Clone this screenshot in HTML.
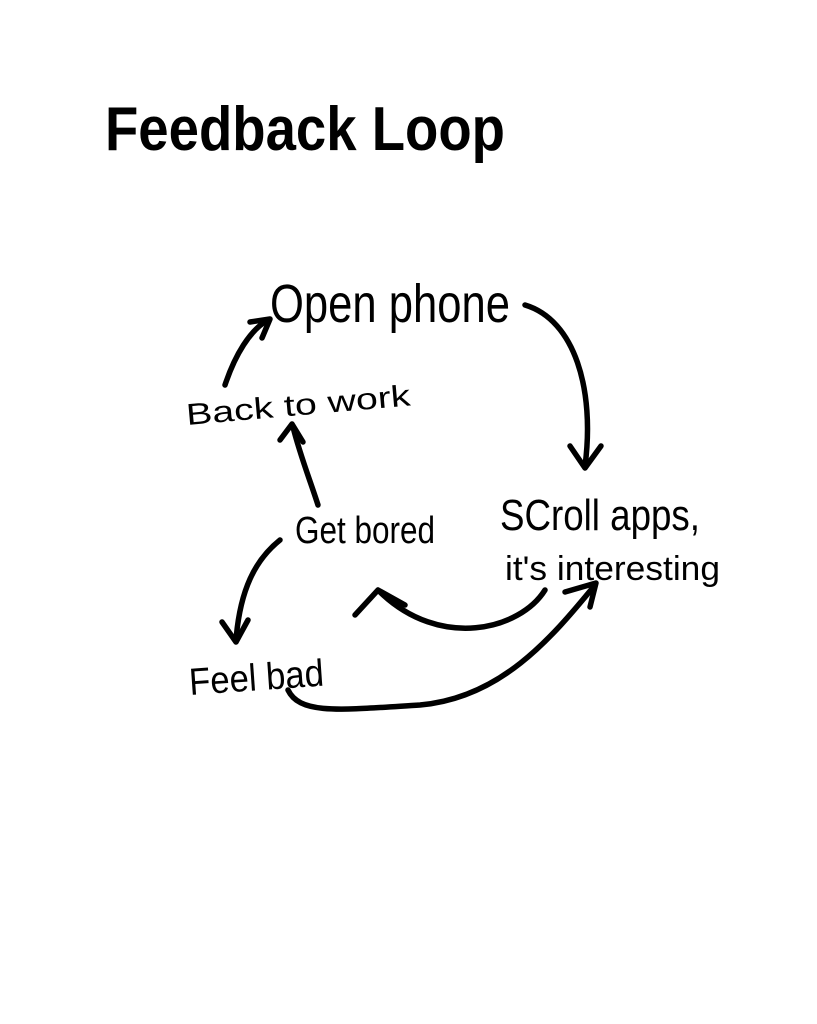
<!DOCTYPE html>
<html><head><meta charset="utf-8"><style>
html,body{margin:0;padding:0;background:#fff;}
svg{display:block;}
text{font-family:"Liberation Sans",sans-serif;fill:#000;}
</style></head><body>
<svg width="817" height="1024" viewBox="0 0 817 1024" xmlns="http://www.w3.org/2000/svg">
<rect width="817" height="1024" fill="#fff"/>
<text x="105" y="150" font-size="62" font-weight="bold" textLength="400" lengthAdjust="spacingAndGlyphs">Feedback Loop</text>
<text x="270" y="322" font-size="54" textLength="240" lengthAdjust="spacingAndGlyphs">Open phone</text>
<text x="187" y="425" font-size="30" textLength="225" lengthAdjust="spacingAndGlyphs" transform="rotate(-5 187 425)">Back to work</text>
<text x="295" y="543" font-size="38" textLength="140" lengthAdjust="spacingAndGlyphs">Get bored</text>
<text x="500" y="530" font-size="44" textLength="200" lengthAdjust="spacingAndGlyphs">SCroll apps,</text>
<text x="505" y="580" font-size="34" textLength="215" lengthAdjust="spacingAndGlyphs">it's interesting</text>
<text x="190" y="695" font-size="38" textLength="135" lengthAdjust="spacingAndGlyphs" transform="rotate(-4 190 695)">Feel bad</text>
<g fill="none" stroke="#000" stroke-width="5.5" stroke-linecap="round" stroke-linejoin="round">
<path d="M525 305 C575 320 595 390 585 466"/>
<path d="M570 446 L585 468 L601 446"/>
<path d="M225 385 C235 355 250 330 268 320"/>
<path d="M250 322 L270 319 L262 338"/>
<path d="M318 505 C310 480 300 455 293 427"/>
<path d="M280 440 L292 424 L303 442"/>
<path d="M280 540 C255 560 240 590 236 640"/>
<path d="M222 622 L236 642 L248 620"/>
<path d="M545 590 C520 630 440 650 380 592"/>
<path d="M355 615 L378 590 L405 605"/>
<path d="M288 690 C300 715 340 710 420 705 C500 698 550 640 595 585"/>
<path d="M565 592 L596 583 L590 607"/>
</g>
</svg>
</body></html>
